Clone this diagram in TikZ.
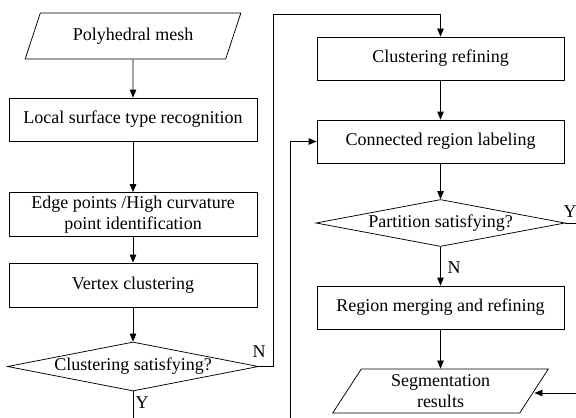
\documentclass[tikz,border=0pt]{standalone}
\usepackage{fontspec}
\setmainfont{Liberation Serif}
\usetikzlibrary{shapes.geometric,arrows.meta}

\begin{document}
\begin{tikzpicture}[
    x=1bp, y=1bp, line width=0.75bp,
    font=\fontsize{18bp}{21bp}\selectfont,
    box/.style={rectangle, draw, minimum width=247bp, minimum height=43bp, inner sep=2bp, align=center},
    decision/.style={diamond, draw, inner sep=0pt, aspect=5},
    io/.style={trapezium, draw, trapezium left angle=63.4, trapezium right angle=116.6,
        trapezium stretches=true, minimum width=216bp, inner sep=2bp, align=center},
    lbl/.style={inner sep=0pt},
    flow/.style={-{Triangle[length=8bp,width=6.5bp]}}
]
    \clip (0,0) rectangle (576,417);

    % Left column
    \node[io, minimum height=46bp] (mesh) at (133,381) {Polyhedral mesh};
    \node[box, minimum width=248bp] (local) at (133,297.5) {Local surface type recognition};
    \node[box, minimum width=248bp, minimum height=44bp] (edge) at (133,202.5)
        {Edge points /High curvature\\point identification};
    \node[box, minimum width=248bp, minimum height=44bp] (vertex) at (133,132) {Vertex clustering};
    \node[decision, minimum width=251bp, minimum height=49bp] (cs) at (133,50.5) {Clustering satisfying?};

    % Right column
    \node[box] (refine) at (440.5,358.5) {Clustering refining};
    \node[box] (label) at (440.5,275.5) {Connected region labeling};
    \node[decision, minimum width=249bp, minimum height=47bp] (ps) at (440.5,194) {Partition satisfying?};
    \node[box] (region) at (440.5,109.5) {Region merging and refining};
    \node[io, minimum height=44bp] (result) at (440.5,26) {Segmentation\\results};

    % Loose ends running off the picture
    \coordinate (csdown) at (133,-20);
    \coordinate (loopin) at (290,-20);
    \coordinate (psout) at (600,194);
    \coordinate (resin) at (600,24);

    % Connectors
    \draw[flow] (mesh) -- (local);
    \draw[flow] (local) -- (edge);
    \draw[flow] (edge) -- (vertex);
    \draw[flow] (vertex) -- (cs);
    \draw[flow] (cs.east) -| (273,403) -| (refine.north);
    \draw[flow] (refine) -- (label);
    \draw[flow] (label) -- (ps);
    \draw[flow] (ps) -- (region);
    \draw[flow] (region) -- (result);
    \draw (cs.south) -- (csdown);
    \draw[flow] (loopin) |- (label.west);
    \draw (ps.east) -- (psout);
    \draw[flow] (resin) -- (result.east |- resin);

    % Branch labels
    \node[lbl] (n1) at (259,65) {N};
    \node[lbl] (y1) at (142,14) {Y};
    \node[lbl] (n2) at (454,149) {N};
    \node[lbl] (y2) at (570,205) {Y};
\end{tikzpicture}
\end{document}
